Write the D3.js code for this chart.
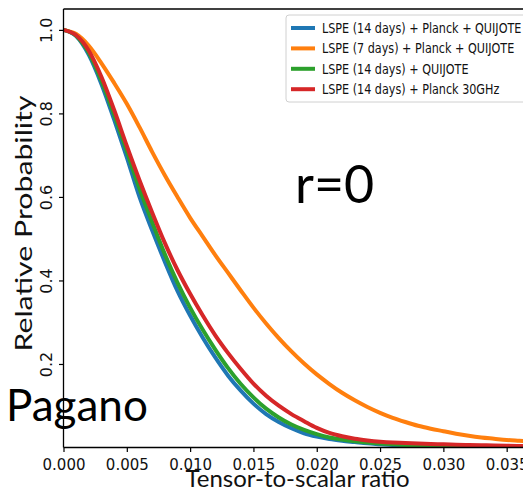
<!DOCTYPE html>
<html>
<head>
<meta charset="utf-8">
<script src="https://cdn.jsdelivr.net/npm/d3@7"></script>
<style>
  body { margin: 0; background: #fff; }
  svg { display: block; }
</style>
</head>
<body>
<script>
// tensor-to-scalar ratio grid
const ratios = [0.000, 0.001, 0.002, 0.003, 0.004, 0.005, 0.006, 0.007, 0.008, 0.009,
                0.010, 0.011, 0.012, 0.013, 0.014, 0.015, 0.016, 0.017, 0.018, 0.019,
                0.020, 0.021, 0.022, 0.023, 0.024, 0.025, 0.026, 0.027, 0.028, 0.029,
                0.030, 0.031, 0.032, 0.033, 0.034, 0.035, 0.036, 0.037];

// relative probability
const lspe14PlanckQuijote = [1.000, 0.985, 0.940, 0.870, 0.785, 0.695, 0.600, 0.520, 0.445, 0.375,
                             0.316, 0.263, 0.215, 0.172, 0.136, 0.105, 0.080, 0.061, 0.046, 0.034,
                             0.026, 0.020, 0.016, 0.013, 0.010, 0.008, 0.006, 0.0045, 0.0035, 0.0027,
                             0.002, 0.0015, 0.001, 0.0008, 0.0005, 0.0004, 0.0003, 0.0002];
const lspe7PlanckQuijote = [1.000, 0.990, 0.962, 0.920, 0.873, 0.823, 0.767, 0.708, 0.652, 0.600,
                            0.550, 0.505, 0.460, 0.418, 0.376, 0.335, 0.297, 0.262, 0.230, 0.201,
                            0.175, 0.152, 0.131, 0.113, 0.097, 0.083, 0.071, 0.061, 0.052, 0.045,
                            0.039, 0.033, 0.028, 0.024, 0.021, 0.018, 0.016, 0.014];
const lspe14Quijote = [1.000, 0.986, 0.945, 0.878, 0.797, 0.710, 0.620, 0.540, 0.463, 0.395,
                       0.335, 0.282, 0.234, 0.190, 0.152, 0.120, 0.093, 0.072, 0.055, 0.042,
                       0.032, 0.024, 0.019, 0.015, 0.012, 0.0095, 0.0075, 0.006, 0.0047, 0.0037,
                       0.003, 0.0024, 0.002, 0.0015, 0.0012, 0.001, 0.0008, 0.0006];
const lspe14Planck30 = [1.000, 0.987, 0.950, 0.887, 0.808, 0.722, 0.640, 0.563, 0.490, 0.425,
                        0.368, 0.316, 0.268, 0.226, 0.188, 0.153, 0.124, 0.100, 0.080, 0.063,
                        0.047, 0.035, 0.027, 0.021, 0.017, 0.014, 0.012, 0.011, 0.0095, 0.0085,
                        0.0075, 0.0068, 0.006, 0.0054, 0.0048, 0.0043, 0.0038, 0.0034];

const seriesNames = ["LSPE (14 days) + Planck + QUIJOTE", "LSPE (7 days) + Planck + QUIJOTE",
                     "LSPE (14 days) + QUIJOTE", "LSPE (14 days) + Planck 30GHz"];
const seriesColors = ["#1f77b4", "#ff7f0e", "#2ca02c", "#d62728"];
const seriesValues = [lspe14PlanckQuijote, lspe7PlanckQuijote, lspe14Quijote, lspe14Planck30];

const xTicks = [0.000, 0.005, 0.010, 0.015, 0.020, 0.025, 0.030, 0.035];
const yTicks = [0.2, 0.4, 0.6, 0.8, 1.0];

const W = 523, H = 497;
const plotLeft = 63.5, plotTop = 9, plotBottom = 447.5, plotRight = 532;

const svg = d3.select("body").append("svg").attr("width", W).attr("height", H);

const x = d3.scaleLinear().domain([0, 0.037]).range([plotLeft, plotRight]);
const y = d3.scaleLinear().domain([0, 1.05]).range([plotBottom, plotTop]);

svg.append("clipPath").attr("id", "plot")
  .append("rect").attr("x", plotLeft).attr("y", plotTop)
  .attr("width", plotRight - plotLeft).attr("height", plotBottom - plotTop);

// curves
const line = d3.line().x((d, i) => x(ratios[i])).y(d => y(d)).curve(d3.curveMonotoneX);
svg.append("g").attr("clip-path", "url(#plot)")
  .selectAll("path").data(seriesValues).enter().append("path")
  .attr("d", d => line(d))
  .attr("fill", "none")
  .attr("stroke", (d, i) => seriesColors[i])
  .attr("stroke-width", 4)
  .attr("stroke-linejoin", "round");

// x axis
const xAxis = svg.append("g").attr("transform", `translate(0,${plotBottom})`)
  .call(d3.axisBottom(x).tickValues(xTicks).tickFormat(d3.format(".3f")).tickSize(4.5).tickPadding(7));
xAxis.select(".domain").remove();
xAxis.selectAll("line").attr("stroke", "#000").attr("stroke-width", 1.2);
xAxis.selectAll("text").attr("font-family", "DejaVu Sans").attr("font-size", 15).attr("fill", "#111");

// y axis, labels turned sideways
const yAxis = svg.append("g").attr("transform", `translate(${plotLeft},0)`)
  .call(d3.axisLeft(y).tickValues(yTicks).tickFormat(d3.format(".1f")).tickSize(4.5));
yAxis.select(".domain").remove();
yAxis.selectAll("line").attr("stroke", "#000").attr("stroke-width", 1.2);
yAxis.selectAll("text")
  .attr("x", 0).attr("y", 0).attr("dy", "0.36em")
  .attr("text-anchor", "middle")
  .attr("transform", "translate(-17,0) rotate(-90)")
  .attr("font-family", "DejaVu Sans").attr("font-size", 16).attr("fill", "#111");

// spines
const spine = svg.append("g").attr("stroke", "#000").attr("stroke-width", 1.3);
spine.append("line").attr("x1", plotLeft).attr("x2", plotLeft).attr("y1", plotTop).attr("y2", plotBottom);
spine.append("line").attr("x1", plotLeft).attr("x2", W).attr("y1", plotTop).attr("y2", plotTop);
spine.append("line").attr("x1", plotLeft).attr("x2", W).attr("y1", plotBottom).attr("y2", plotBottom);

// legend
const legend = svg.append("g");
legend.append("rect").attr("x", 286).attr("y", 15).attr("width", 260).attr("height", 87)
  .attr("rx", 3).attr("fill", "#fff").attr("stroke", "#d0d0d0").attr("stroke-width", 1);
const rows = legend.selectAll("g.row").data(seriesNames).enter().append("g")
  .attr("class", "row")
  .attr("transform", (d, i) => `translate(0,${28 + i * 20.4})`);
rows.append("line").attr("x1", 291).attr("x2", 315).attr("y1", 0).attr("y2", 0)
  .attr("stroke", (d, i) => seriesColors[i]).attr("stroke-width", 4);
rows.append("text")
  .attr("transform", "translate(322,4.8) scale(1,1.2)")
  .attr("font-family", "DejaVu Sans").attr("font-size", 11.2).attr("fill", "#111")
  .text(d => d);

// axis titles
svg.append("text").attr("x", 297.5).attr("y", 486.5).attr("text-anchor", "middle")
  .attr("font-family", "Lato").attr("font-size", 24).attr("fill", "#111")
  .text("Tensor-to-scalar ratio");
svg.append("text").attr("transform", "translate(32,223.5) rotate(-90)").attr("text-anchor", "middle")
  .attr("font-family", "Lato").attr("font-size", 23)
  .attr("textLength", 256).attr("lengthAdjust", "spacingAndGlyphs").attr("fill", "#111")
  .text("Relative Probability");

// annotations
svg.append("text").attr("x", 295).attr("y", 203)
  .attr("font-family", "Lato").attr("font-size", 52).attr("fill", "#000")
  .text("r=0");
svg.append("text").attr("x", 6).attr("y", 421)
  .attr("font-family", "Lato").attr("font-size", 44).attr("fill", "#000")
  .text("Pagano");
</script>
</body>
</html>
